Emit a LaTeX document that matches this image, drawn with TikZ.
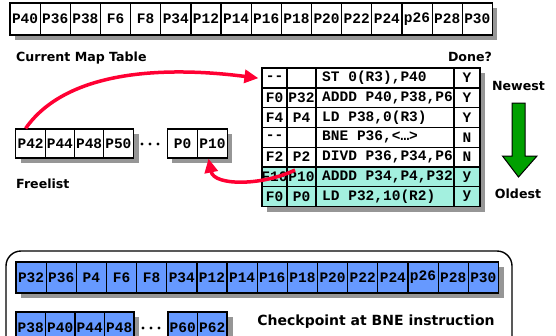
\documentclass[tikz,border=0pt]{standalone}
\usepackage{fontspec}
\setmonofont{Liberation Mono}
\newfontfamily\labelfont{DejaVu Sans}
\usetikzlibrary{arrows.meta}

\definecolor{shadowgray}{RGB}{150,150,150}
\definecolor{ckblue}{RGB}{102,153,255}
\definecolor{doneteal}{RGB}{163,240,223}
\definecolor{linkred}{RGB}{255,0,51}
\definecolor{arrowgreen}{RGB}{0,160,0}

\tikzset{
  regcell/.style={draw, line width=1.2pt, inner sep=0pt, minimum width=#1,
    font=\ttfamily\bfseries\fontsize{14.5}{14.5}\selectfont},
  regcell/.default=30pt,
  maprow/.style={regcell=30.15pt, minimum height=32pt},
  freecell/.style={regcell=29.5pt, minimum height=29pt},
  ckcell/.style={maprow, fill=ckblue, minimum height=31pt},
  ckfree/.style={freecell, fill=ckblue, minimum height=31pt},
  robcell/.style={draw, line width=1.2pt, inner sep=0pt},
  robtext/.style={inner sep=0pt, font=\ttfamily\bfseries\fontsize{14.5}{14.5}\selectfont},
  caption/.style={font=\labelfont\bfseries\fontsize{12.6}{12.6}\selectfont, inner sep=0pt},
  bigcaption/.style={caption, font=\labelfont\bfseries\fontsize{14}{14}\selectfont},
  link/.style={draw=linkred, line width=3.5pt,
    -{Triangle[length=14pt,width=13pt]}},
}

\begin{document}
\begin{tikzpicture}[x=1pt,y=-1pt]
\useasboundingbox (0,0) rectangle (556,335);

% ---------- current map table ----------
\fill[shadowgray] (15,8) rectangle (497.4,40);
\foreach \t [count=\i from 0] in {P40,P36,P38,F6,F8,P34,P12,P14,P16,P18,P20,P22,P24,p26,P28,P30}
  \node[maprow, fill=white] (m\i) at ({10+30.15*\i+15.075},19) {\t};
\node[caption, anchor=west] (maplbl) at (16,58) {Current Map Table};

% ---------- free list ----------
\fill[shadowgray] (21,134) rectangle (139,163);
\fill[shadowgray] (172,134) rectangle (232,163);
\foreach \t [count=\i from 0] in {P42,P44,P48,P50}
  \node[freecell, fill=white] (fa\i) at ({16+29.25*\i+14.625},143.5) {\t};
\foreach \t [count=\i from 0] in {P0,P10}
  \node[freecell, fill=white] (fb\i) at ({167.5+30*\i+15},143.5) {\t};
\foreach \x in {142,150,158} \fill (\x,144) circle (1.7);
\node[caption, anchor=west] (freelbl) at (16,184) {Freelist};

% ---------- reorder buffer ----------
\def\cA{262}\def\cB{287}\def\cC{316}\def\cD{454}\def\cE{480}
\fill[shadowgray] (267,73.3) rectangle (485,211.5);
\fill[white] (\cA,68.3) rectangle (\cE,167);
\fill[doneteal] (\cA,167) rectangle (\cE,206.5);

\foreach \r/\b/\ins/\d [count=\i from 1] in {
    --/ /{ST 0(R3),P40}/Y,
    F0/P32/{ADDD P40,P38,P6}/Y,
    F4/P4/{LD P38,0(R3)}/Y,
    --/ /{BNE P36,<\ldots>}/N,
    F2/P2/{DIVD P36,P34,P6}/N,
    F10/P10/{ADDD P34,P4,P32}/y,
    F0/P0/{LD P32,10(R2)}/y}
{
  \pgfmathsetmacro\ytop{68.3+19.74*(\i-1)}
  \pgfmathsetmacro\ybot{68.3+19.74*\i}
  \pgfmathsetmacro\ymid{68.3+19.74*(\i-0.5)}
  \begin{scope}
    \clip (\cA,\ytop) rectangle (\cB,\ybot);
    \node[robtext] (t\i a) at ({(\cA+\cB)/2},\ymid) {\r};
  \end{scope}
  \begin{scope}
    \clip (\cB,\ytop) rectangle (\cC,\ybot);
    \node[robtext] (t\i b) at ({(\cB+\cC)/2},\ymid) {\b};
  \end{scope}
  \begin{scope}
    \clip (\cC,\ytop) rectangle (\cD,\ybot);
    \node[robtext, anchor=west] (t\i c) at (\cC+6,\ymid) {\ins};
  \end{scope}
  \node[robtext] (t\i d) at ({(\cD+\cE)/2},\ymid) {\d};
  \node[robcell, minimum width=25pt, minimum height=19.74pt] (r\i c1) at ({(\cA+\cB)/2},\ymid) {};
  \node[robcell, minimum width=29pt, minimum height=19.74pt] (r\i c2) at ({(\cB+\cC)/2},\ymid) {};
  \node[robcell, minimum width=138pt, minimum height=19.74pt] (r\i c3) at ({(\cC+\cD)/2},\ymid) {};
  \node[robcell, minimum width=26pt, minimum height=19.74pt] (r\i c4) at ({(\cD+\cE)/2},\ymid) {};
}
\draw[line width=1.8pt] (\cA,68.3) rectangle (\cE,206.5);

\node[caption] (donelbl) at (470,57) {Done?};
\node[caption] (newlbl) at (518.5,86) {Newest};
\node[caption] (oldlbl) at (518,194) {Oldest};

% age arrow, newest at the top
\draw[fill=arrowgreen, line width=1pt, line join=miter]
  (512,103) -- (525,103) -- (525,156) -- (537,156) -- (518.5,177)
  -- (502.5,156) -- (512,156) -- cycle;

% ---------- red links ----------
\coordinate (frombuf) at (295,170);
\draw[link] ([xshift=-5pt]fa0.north) .. controls (70,65) and (180,68) .. ([xshift=-3pt]r1c1.west);
\draw[link] (frombuf) .. controls (262,186) and (214,186) .. ([xshift=-4pt]fb1.south);

% ---------- checkpoint ----------
\draw[line width=1.4pt, rounded corners=15pt] (6,251) rectangle (512,360);
\fill[shadowgray] (21,267) rectangle (504.4,298);
\foreach \t [count=\i from 0] in {P32,P36,P4,F6,F8,P34,P12,P14,P16,P18,P20,P22,P24,p26,P28,P30}
  \node[ckcell] (c\i) at ({16+30.15*\i+15.075},277.5) {\t};
\fill[shadowgray] (21,317) rectangle (139,350);
\fill[shadowgray] (173,317) rectangle (233,350);
\foreach \t [count=\i from 0] in {P38,P40,P44,P48}
  \node[ckfree] (ca\i) at ({16+29.5*\i+14.75},327.5) {\t};
\foreach \x in {143,151,159} \fill (\x,328) circle (1.7);
\foreach \t [count=\i from 0] in {P60,P62}
  \node[ckfree] (cb\i) at ({168+29.5*\i+14.75},327.5) {\t};
\node[bigcaption] (cklbl) at (376,322) {Checkpoint at BNE instruction};
\end{tikzpicture}
\end{document}
